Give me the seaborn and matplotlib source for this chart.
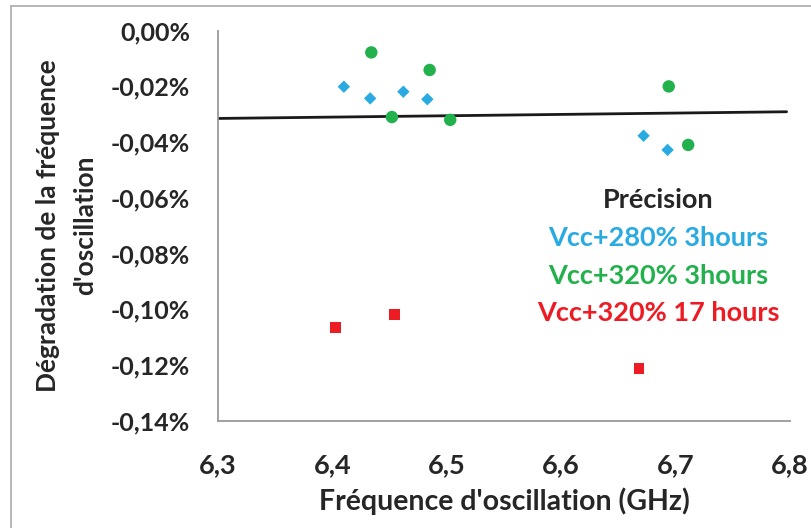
import matplotlib
matplotlib.use("Agg")
import matplotlib.pyplot as plt
import seaborn as sns
import pandas as pd
import numpy as np
from matplotlib.ticker import MultipleLocator, FuncFormatter
from matplotlib.lines import Line2D

# ---- data ----
blue_x = [6.410, 6.433, 6.462, 6.483, 6.672, 6.693]
blue_y = [-0.0201, -0.0243, -0.0219, -0.0246, -0.0377, -0.0428]
green_x = [6.434, 6.485, 6.452, 6.503, 6.694, 6.711]
green_y = [-0.0078, -0.0141, -0.0310, -0.0320, -0.0200, -0.0410]
red_x = [6.403, 6.454, 6.668]
red_y = [-0.1066, -0.1018, -0.1212]
trend_x = [6.3, 6.797]
trend_y = [-0.0315, -0.0291]
series_names = ["Vcc+280% 3hours", "Vcc+320% 3hours", "Vcc+320% 17 hours"]
legend_title = "Précision"
x_label = "Fréquence d'oscillation (GHz)"
y_label = "Dégradation de la fréquence\nd'oscillation"

colors = ["#29ABE2", "#22B14C", "#ED1C24"]

sns.set_style("white")
plt.rcParams['font.family'] = ['Lato', 'DejaVu Sans']

fig = plt.figure(figsize=(8.11, 5.28), dpi=100)
W, H = 811, 528
ax = fig.add_axes([218 / W, 1 - 420.7 / H, (790 - 218) / W, (420.7 - 30.7) / H])

df_b = pd.DataFrame({"x": blue_x, "y": blue_y})
df_g = pd.DataFrame({"x": green_x, "y": green_y})
df_r = pd.DataFrame({"x": red_x, "y": red_y})
df_t = pd.DataFrame({"x": trend_x, "y": trend_y})

sns.lineplot(data=df_t, x="x", y="y", ax=ax, color="#1a1a1a", linewidth=2.0, zorder=2)
sns.scatterplot(data=df_b, x="x", y="y", ax=ax, marker="D", s=40, color=colors[0],
                edgecolor="none", zorder=3)
sns.scatterplot(data=df_g, x="x", y="y", ax=ax, marker="o", s=80, color=colors[1],
                edgecolor="none", zorder=3)
sns.scatterplot(data=df_r, x="x", y="y", ax=ax, marker="s", s=60, color=colors[2],
                edgecolor="none", zorder=3)

ax.set_xlim(6.3, 6.8)
ax.set_ylim(-0.14, 0.0)
ax.xaxis.set_major_locator(MultipleLocator(0.1))
ax.xaxis.set_minor_locator(MultipleLocator(0.02))
ax.yaxis.set_major_locator(MultipleLocator(0.02))
ax.xaxis.set_major_formatter(FuncFormatter(lambda v, p: f"{v:.1f}".replace(".", ",")))
ax.yaxis.set_major_formatter(FuncFormatter(lambda v, p: f"{v:.2f}%".replace(".", ",").replace("-0,00", "0,00")))

for s in ["top", "right"]:
    ax.spines[s].set_visible(False)
for s in ["left", "bottom"]:
    ax.spines[s].set_color("#999999")
    ax.spines[s].set_linewidth(1.3)

FS = 19.5
ax.tick_params(axis="both", which="major", direction="in", length=8, width=1.2, color="#999999",
               labelcolor="#262626")
ax.tick_params(axis="x", which="minor", direction="in", length=6, width=1.0, color="#aaaaaa")
ax.tick_params(axis="x", which="major", pad=23, labelsize=19.5)
ax.tick_params(axis="y", which="major", pad=20, labelsize=18)
for lab in ax.get_xticklabels() + ax.get_yticklabels():
    lab.set_fontweight("bold")

ax.set_xlabel(x_label, fontsize=20.5, fontweight="bold", color="#262626", labelpad=8)
ax.set_ylabel(y_label, fontsize=19, fontweight="bold", color="#262626", labelpad=10,
              linespacing=1.65)

# legend text
def px(x, y):
    return (x / W, 1 - y / H)

fig.text(*px(658, 200), legend_title, ha="center", va="center", fontsize=FS,
         fontweight="bold", color="#262626")
for name, c, yy in zip(series_names, colors, [238, 276, 313]):
    fig.text(*px(658, yy), name, ha="center", va="center", fontsize=FS,
             fontweight="bold", color=c)

# figure frame (top and left)
fig.add_artist(Line2D([11 / W, 11 / W], [0, 1 - 6 / H], transform=fig.transFigure,
                      color="#aaaaaa", linewidth=1.2))
fig.add_artist(Line2D([11 / W, 1], [1 - 6 / H, 1 - 6 / H], transform=fig.transFigure,
                      color="#aaaaaa", linewidth=1.2))

fig.savefig("out.png", dpi=100)
